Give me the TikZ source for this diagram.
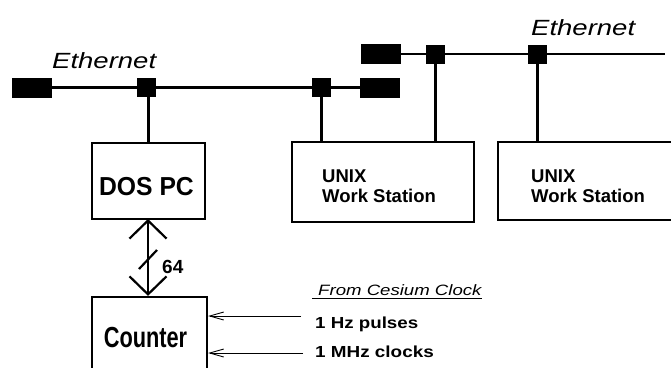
\documentclass[tikz,border=0pt]{standalone}
\usepackage{fontspec}
\setmainfont{Liberation Sans}
\usetikzlibrary{arrows.meta}
\begin{document}
\begin{tikzpicture}[x=1pt,y=-1pt,
  blk/.style={fill=black,inner sep=0pt,minimum width=19pt,minimum height=19pt},
  term/.style={fill=black,inner sep=0pt,minimum width=40pt,minimum height=20pt},
  bx/.style={draw,line width=2.2pt,inner sep=0pt},
  net/.style={line width=2.2pt},
  thinline/.style={line width=0.9pt},
  lbl/.style={inner sep=0pt,font=\bfseries\fontsize{18.5}{20}\selectfont},
  bigarrow/.style={line width=2.2pt,{Straight Barb[length=18pt,width=37pt]}-{Straight Barb[length=18pt,width=37pt]}},
  inarrow/.style={line width=0.9pt,-{Straight Barb[length=14pt,width=8pt]}}
]
\useasboundingbox (0,0) rectangle (671,367);
\clip (0,0) rectangle (671,367);

% lower (left) Ethernet
\node[term] (tL) at (32,87.5) {};
\node[blk] (tapA) at (146.5,87.5) {};
\node[blk] (tapB) at (321.5,87.5) {};
\node[term] (tR1) at (380,87.5) {};
\draw[net] (tL.east) -- (tapA.west);
\draw[net] (tapA.east) -- (tapB.west);
\draw[net] (tapB.east) -- (tR1.west);

% upper (right) Ethernet
\node[term] (tR2) at (381,54) {};
\node[blk] (tapC) at (435.5,54) {};
\node[blk] (tapD) at (537.5,54) {};
\coordinate (eEnd) at (665,54);
\draw[net] (tR2.east) -- (tapC.west);
\draw[net] (tapC.east) -- (tapD.west);
\draw[net] (tapD.east) -- (eEnd);

% Ethernet labels
\node[inner sep=0pt,anchor=base west,font=\itshape\fontsize{22}{24}\selectfont] (eth1) at (52,68) {\scalebox{1.25}[1]{Ethernet}};
\node[inner sep=0pt,anchor=base west,font=\itshape\fontsize{22}{24}\selectfont] (eth2) at (531,35) {\scalebox{1.25}[1]{Ethernet}};

% boxes
\node[bx,minimum width=113pt,minimum height=76pt] (dos) at (148.5,181) {};
\node[bx,minimum width=182pt,minimum height=80pt] (unix1) at (383,182) {};
\node[bx,minimum width=202pt,minimum height=78pt] (unix2) at (599,181) {};
\node[bx,minimum width=115pt,minimum height=103pt] (counter) at (149.5,348.5) {};

% box texts
\node[inner sep=0pt,anchor=base,font=\bfseries\fontsize{26}{28}\selectfont] (dostxt) at (146.5,195) {\scalebox{0.95}[1]{DOS PC}};
\node[lbl,anchor=base west] (u1a) at (322,182) {UNIX};
\node[lbl,anchor=base west] (u1b) at (322,202) {Work Station};
\node[lbl,anchor=base west] (u2a) at (531,182) {UNIX};
\node[lbl,anchor=base west] (u2b) at (531,202) {Work Station};
\node[inner sep=0pt,anchor=base,font=\bfseries\fontsize{29}{30}\selectfont] (cnttxt) at (145.5,347) {\scalebox{0.75}[1]{Counter}};

% drops
\draw[net] (dos.north) -- (dos.north |- tapA.south);
\draw[net] (tapB.south) -- (tapB.south |- unix1.north);
\draw[net] (tapC.south) -- (tapC.south |- unix1.north);
\draw[net] (tapD.south) -- (tapD.south |- unix2.north);

% bus between DOS PC and counter
\coordinate (busTop) at (148,219);
\draw[bigarrow] (busTop) -- (busTop |- counter.north);
\draw[line width=2.2pt] (139,269) -- (157,250);
\node[inner sep=0pt,anchor=base west,font=\bfseries\fontsize{19}{20}\selectfont] (w64) at (162,273) {64};

% cesium clock inputs
\node[inner sep=0pt,anchor=base west,font=\itshape\fontsize{15}{16}\selectfont] (from) at (318,295) {\scalebox{1.24}[1]{From Cesium Clock}};
\draw[thinline] ([xshift=-6pt,yshift=-3pt]from.base west) -- ([yshift=-3pt]from.base east);
\coordinate (hzS) at (301,316);
\coordinate (mhS) at (303,353);
\draw[inarrow] (hzS) -- (hzS -| counter.east);
\draw[inarrow] (mhS) -- (mhS -| counter.east);
\node[inner sep=0pt,anchor=base west,font=\bfseries\fontsize{16}{18}\selectfont] (hz) at (315,328) {\scalebox{1.17}[1]{1 Hz pulses}};
\node[inner sep=0pt,anchor=base west,font=\bfseries\fontsize{16}{18}\selectfont] (mhz) at (315,357.5) {\scalebox{1.18}[1]{1 MHz clocks}};
\end{tikzpicture}
\end{document}
